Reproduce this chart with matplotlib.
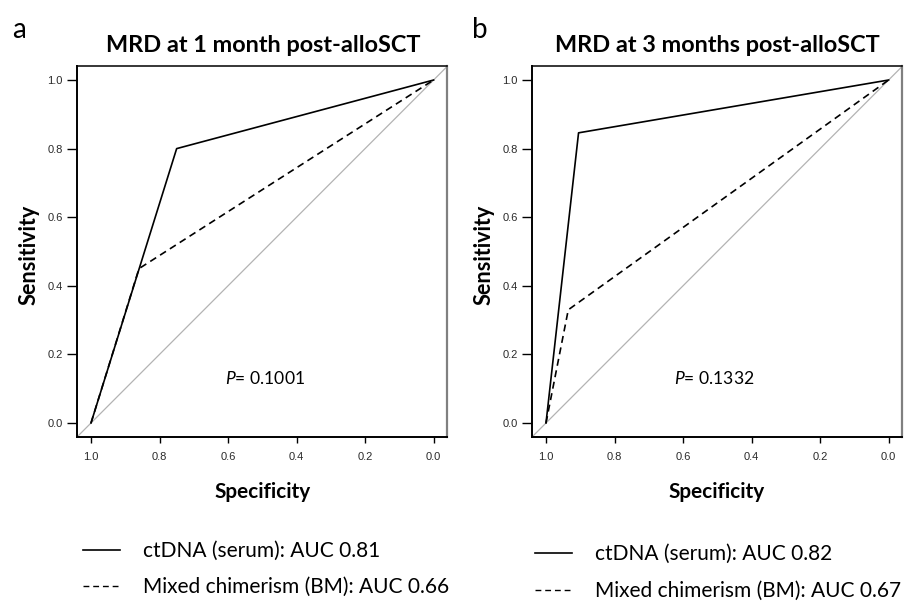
import matplotlib
matplotlib.use("Agg")
import matplotlib.pyplot as plt
from matplotlib.lines import Line2D

# ---- data ----
titles = ["MRD at 1 month post-alloSCT", "MRD at 3 months post-alloSCT"]
panel_letters = ["a", "b"]
p_values = ["0.1001", "0.1332"]

spec_ct = [[1.0, 0.75, 0.0], [1.0, 0.905, 0.0]]
sens_ct = [[0.0, 0.80, 1.0], [0.0, 0.846, 1.0]]
spec_mc = [[1.0, 0.86, 0.0], [1.0, 0.935, 0.0]]
sens_mc = [[0.0, 0.45, 1.0], [0.0, 0.33, 1.0]]

auc_ct = ["0.81", "0.82"]
auc_mc = ["0.66", "0.67"]

ticks = [0.0, 0.2, 0.4, 0.6, 0.8, 1.0]
tick_labels = ["0.0", "0.2", "0.4", "0.6", "0.8", "1.0"]

# ---- style ----
SANS = ["Lato", "DejaVu Sans"]
TICKF = ["Liberation Sans", "DejaVu Sans"]
plt.rcParams["mathtext.fontset"] = "custom"
plt.rcParams["mathtext.rm"] = "Lato"
plt.rcParams["mathtext.it"] = "Lato:italic"
plt.rcParams["mathtext.bf"] = "Lato:bold"

W, H = 910, 601
fig = plt.figure(figsize=(W / 100, H / 100), dpi=100)
renderer = fig.canvas.get_renderer()


def fx(px):
    return px / W


def fy(px):
    return 1 - px / H


def fitted_size(s, target_w, **kw):
    size = 10.0
    for _ in range(3):
        t = fig.text(0, 0, s, fontsize=size, **kw)
        w = t.get_window_extent(renderer).width
        t.remove()
        size = size * target_w / w
    return size


title_fs = fitted_size(titles[0], 314, family=SANS, fontweight="bold")
xlab_fs = fitted_size("Specificity", 96, family=SANS, fontweight="bold")
ylab_fs = fitted_size("Sensitivity", 100, family=SANS, fontweight="bold")
tick_fs = fitted_size("1.0", 15.5, family=TICKF)
p_fs = fitted_size(r"$\it{P}$= 0.1001", 80, family=SANS)
leg_fs = fitted_size("Mixed chimerism (BM): AUC 0.66", 306, family=SANS)
leg_px = leg_fs * 100 / 72

ax_left = [77.3, 532.3]
ax_w = 370.0
ax_top, ax_bot = 66.3, 436.7
title_x = [263, 717]
p_text_x = [0.493, 0.51]
letter_x = [12, 472]
legend_x = [83, 535]
legend_y = [[550, 586], [553, 590]]

for i in range(2):
    ax = fig.add_axes([fx(ax_left[i]), fy(ax_bot), ax_w / W, (ax_bot - ax_top) / H])
    ax.set_xlim(1.04, -0.04)
    ax.set_ylim(-0.04, 1.04)
    ax.axline((1.0, 0.0), (0.0, 1.0), color="#b3b3b3", lw=0.9, zorder=1)
    ax.plot(spec_ct[i], sens_ct[i], color="black", lw=1.2, zorder=3)
    ax.plot(spec_mc[i], sens_mc[i], color="black", lw=1.2,
            dashes=(4.2, 2.8), zorder=3)

    ax.set_xticks(ticks)
    ax.set_xticklabels(tick_labels, family=TICKF, fontsize=tick_fs, color="#2a2a2a")
    ax.set_yticks(ticks)
    ax.set_yticklabels(tick_labels, family=TICKF, fontsize=tick_fs, color="#2a2a2a")
    ax.tick_params(axis="x", length=4.3, width=1.0, pad=6.5, direction="out")
    ax.tick_params(axis="y", length=7.0, width=1.0, pad=3.4, direction="out")
    ax.spines["left"].set_linewidth(1.4)
    ax.spines["bottom"].set_linewidth(1.4)
    ax.spines["top"].set_linewidth(1.1)
    ax.spines["right"].set_linewidth(1.6)
    ax.spines["right"].set_color("#808080")

    ax.set_xlabel("Specificity", family=SANS, fontweight="bold", fontsize=xlab_fs)
    ax.xaxis.set_label_coords(fx(title_x[i]), fy(497.5), transform=fig.transFigure)
    ax.xaxis.label.set_va("baseline")
    ax.set_ylabel("Sensitivity", family=SANS, fontweight="bold", fontsize=ylab_fs)
    ax.yaxis.set_label_coords(fx(ax_left[i] - 48.5), fy(255), transform=fig.transFigure)
    ax.yaxis.label.set_va("center")
    ax.yaxis.label.set_ha("center")

    fig.text(fx(title_x[i]), fy(52), titles[i], family=SANS, fontweight="bold",
             fontsize=title_fs, ha="center", va="baseline")

    ax.text(p_text_x[i], 0.114, r"$\it{P}$" + "= " + p_values[i], family=SANS,
            fontsize=p_fs, ha="center", va="baseline")

    fig.text(fx(letter_x[i]), fy(38), panel_letters[i], family=SANS, fontsize=20,
             ha="left", va="baseline")

    handles = [Line2D([], [], color="black", lw=1.2),
               Line2D([], [], color="black", lw=1.0, dashes=(4.2, 2.8))]
    labels = ["ctDNA (serum): AUC " + auc_ct[i],
              "Mixed chimerism (BM): AUC " + auc_mc[i]]
    for h, lab, yy in zip(handles, labels, legend_y[i]):
        fig.legend([h], [lab], loc="center left",
                   bbox_to_anchor=(fx(legend_x[i]), fy(yy + 1)),
                   frameon=False, prop={"family": SANS, "size": leg_fs},
                   handlelength=37 / leg_px, handletextpad=23 / leg_px,
                   borderaxespad=0, borderpad=0)

fig.savefig("out.png", dpi=100)
